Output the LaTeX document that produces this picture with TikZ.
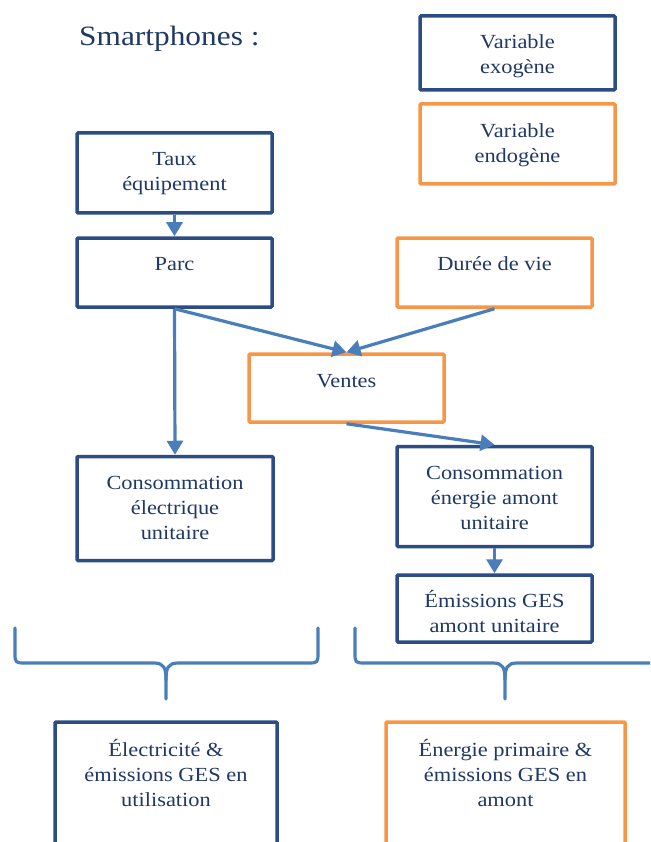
\documentclass[tikz,border=0pt]{standalone}
\usepackage{fontspec}
\setmainfont{Liberation Serif}[FakeStretch=1.12]
\usetikzlibrary{arrows.meta}
\definecolor{navy}{RGB}{31,56,100}
\definecolor{exoline}{RGB}{44,76,134}
\definecolor{endoline}{RGB}{247,150,70}
\definecolor{linkblue}{RGB}{74,126,187}
\begin{document}
\begin{tikzpicture}[x=1pt,y=-1pt,
  box/.style={draw, line width=3.5pt, rectangle, inner sep=0pt, rounded corners=1pt},
  exo/.style={box, draw=exoline},
  endo/.style={box, draw=endoline},
  txt/.style={inner sep=0pt, anchor=north, align=center, text=navy,
    font=\fontsize{20}{25}\selectfont, execute at begin node=\strut},
  link/.style={draw=linkblue, line width=3.2pt, -{Triangle[length=14pt,width=16pt]}},
  brace/.style={draw=linkblue, line width=3.2pt, line cap=round, line join=round}]
\useasboundingbox (0,0) rectangle (650,842);
\clip (0,0) rectangle (650,842);

% title
\node[anchor=base west, inner sep=0pt, text=navy, font=\fontsize{28}{34}\selectfont]
  (title) at (79,46) {Smartphones :};

% legend
\node[exo, minimum width=195, minimum height=74] (legexo) at (517.5,53) {};
\node[txt] (legexo-t) at (517.5,34.8) {Variable\\exogène};
\node[endo, minimum width=195, minimum height=80] (legendo) at (517.5,144) {};
\node[txt] (legendo-t) at (517.5,123.2) {Variable\\endogène};

% model variables
\node[exo, minimum width=195, minimum height=80] (taux) at (174.5,173) {};
\node[txt] (taux-t) at (174.5,152.5) {Taux\\équipement};

\node[exo, minimum width=195, minimum height=69] (parc) at (174.5,272.5) {};
\node[txt] (parc-t) at (174.5,252.5) {Parc};

\node[endo, minimum width=195, minimum height=69] (duree) at (494.5,272.5) {};
\node[txt] (duree-t) at (494.5,252.5) {Durée de vie};

\node[endo, minimum width=195, minimum height=68] (ventes) at (346.5,388) {};
\node[txt] (ventes-t) at (346.5,369.5) {Ventes};

\node[exo, minimum width=196, minimum height=104] (conselec) at (175,508.5) {};
\node[txt] (conselec-t) at (175,476.5) {Consommation\\électrique\\unitaire};

\node[exo, minimum width=195, minimum height=100] (consamont) at (494.5,496.5) {};
\node[txt] (consamont-t) at (494.5,466.5) {Consommation\\énergie amont\\unitaire};

\node[exo, minimum width=195, minimum height=67] (emis) at (494.5,608.5) {};
\node[txt] (emis-t) at (494.5,590.5) {Émissions GES\\amont unitaire};

% results
\node[exo, minimum width=222, minimum height=160] (usage) at (166,802) {};
\node[txt] (usage-t) at (166,739.5) {Électricité \&\\émissions GES en\\utilisation};
\node[endo, minimum width=239, minimum height=160] (amont) at (505.5,802) {};
\node[txt] (amont-t) at (505.5,739.5) {Énergie primaire \&\\émissions GES en\\amont};

% links
\draw[link] (taux.south) -- (parc.north);
\draw[link] (parc.south) -- (ventes.north);
\draw[link] (duree.south) -- (ventes.north);
\draw[link] (parc.south) -- (conselec.north);
\draw[link] (ventes.south) -- (consamont.north);
\draw[link] (consamont.south) -- (emis.north);

% braces
\draw[brace] (15,628) -- (15,652) .. controls (15,663) .. (26,663) -- (154,663)
  .. controls (164,663) and (166,668) .. (166,680) -- (166,699);
\draw[brace] (318,628) -- (318,652) .. controls (318,663) .. (307,663) -- (178,663)
  .. controls (168,663) and (166,668) .. (166,680);
\draw[brace] (355,628) -- (355,652) .. controls (355,663) .. (366,663) -- (493,663)
  .. controls (503,663) and (505,668) .. (505,680) -- (505,699);
\draw[brace] (660,663) -- (517,663) .. controls (507,663) and (505,668) .. (505,680);
\end{tikzpicture}
\end{document}
